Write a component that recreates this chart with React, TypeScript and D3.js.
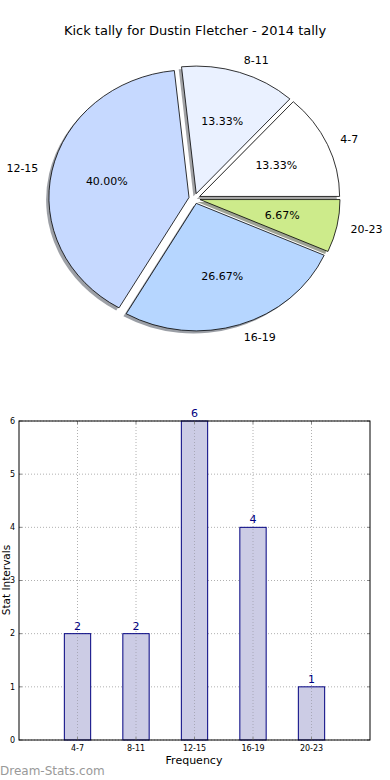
import React from 'react'
import * as d3 from 'd3'

const categories = ['4-7', '8-11', '12-15', '16-19', '20-23']
const counts = [2, 2, 6, 4, 1]
const sliceColors = ['#ffffff', '#eaf1ff', '#c6d9ff', '#b6d6ff', '#cdeb8b']
const yTicks = [0, 1, 2, 3, 4, 5, 6]

const font = '"DejaVu Sans", sans-serif'

const App: React.FunctionComponent = () => {
  const width = 390
  const height = 780

  // pie (matplotlib style, slightly stretched since the axes aren't equal)
  const cx = 194.5
  const cy = 198.5
  const sx = 140
  const sy = 127.5
  const explode = 0.04

  const pie = d3
    .pie<number>()
    .sort(null)
    .startAngle(Math.PI / 2)
    .endAngle(Math.PI / 2 - 2 * Math.PI)
  const arcs = pie(counts)
  const arc = d3.arc<d3.PieArcDatum<number>>().innerRadius(0).outerRadius(1)
  const total = d3.sum(counts)

  const slices = arcs.map((a, i) => {
    const mid = (a.startAngle + a.endAngle) / 2
    const dx = Math.sin(mid)
    const dy = -Math.cos(mid)
    const ox = cx + explode * dx * sx
    const oy = cy + explode * dy * sy
    const rgb = d3.rgb(sliceColors[i])
    const shadow = d3.rgb(rgb.r * 0.3, rgb.g * 0.3, rgb.b * 0.3).toString()
    return {
      d: arc(a) || '',
      ox,
      oy,
      dx,
      dy,
      shadow,
      color: sliceColors[i],
      label: categories[i],
      pct: ((counts[i] / total) * 100).toFixed(2) + '%',
    }
  })

  // bar chart
  const x = d3.scaleLinear().domain([-1, 5]).range([19, 370])
  const y = d3.scaleLinear().domain([0, 6]).range([740, 421])
  const barWidth = x(0.45) - x(0)

  return (
    <svg
      width={width}
      height={height}
      style={{ position: 'absolute', left: 0, top: 0, display: 'block' }}
      fontFamily={font}
    >
      <rect width={width} height={height} fill="#fff" />
      <text x={195} y={35} textAnchor="middle" fontSize={13} fill="#000">
        Kick tally for Dustin Fletcher - 2014 tally
      </text>

      {slices.map((s, i) => (
        <path
          key={'sh' + i}
          d={s.d}
          transform={`translate(${s.ox - 0.02 * sx},${s.oy + 0.02 * sy}) scale(${sx},${sy})`}
          fill={s.shadow}
          fillOpacity={0.5}
          stroke="none"
        />
      ))}
      {slices.map((s, i) => (
        <path
          key={'w' + i}
          d={s.d}
          transform={`translate(${s.ox},${s.oy}) scale(${sx},${sy})`}
          fill={s.color}
          stroke="#000"
          strokeWidth={0.8}
          vectorEffect="non-scaling-stroke"
          strokeLinejoin="round"
        />
      ))}
      {slices.map((s, i) => (
        <g key={'l' + i} fontSize={11} fill="#000">
          <text
            x={s.ox + 1.1 * s.dx * sx}
            y={s.oy + 1.1 * s.dy * sy}
            dy="0.35em"
            textAnchor={s.dx > 0 ? 'start' : 'end'}
          >
            {s.label}
          </text>
          <text
            x={s.ox + 0.6 * s.dx * sx}
            y={s.oy + 0.6 * s.dy * sy}
            dy="0.35em"
            textAnchor="middle"
          >
            {s.pct}
          </text>
        </g>
      ))}

      {/* grid */}
      <g stroke="#b0b0b0" strokeWidth={1} strokeDasharray="1,2">
        {yTicks.map(t => (
          <line key={'gy' + t} x1={x(-1)} x2={x(5)} y1={y(t)} y2={y(t)} />
        ))}
        {categories.map((c, i) => (
          <line key={'gx' + c} x1={x(i)} x2={x(i)} y1={y(0)} y2={y(6)} />
        ))}
      </g>

      {counts.map((v, i) => (
        <rect
          key={'b' + i}
          x={x(i) - barWidth / 2}
          y={y(v)}
          width={barWidth}
          height={y(0) - y(v)}
          fill="#cccce5"
          stroke="#000080"
          strokeWidth={1}
        />
      ))}
      {/* grid shows through the bars in the reference */}
      <g stroke="#a8a8b8" strokeWidth={1} strokeDasharray="1,2">
        {categories.map((c, i) => (
          <line key={'gx2' + c} x1={x(i)} x2={x(i)} y1={y(0)} y2={y(counts[i])} />
        ))}
      </g>
      {counts.map((v, i) => (
        <text
          key={'v' + i}
          x={x(i)}
          y={y(v) - 4}
          textAnchor="middle"
          fontSize={11}
          fill="#000080"
        >
          {v}
        </text>
      ))}

      {/* ticks */}
      <g stroke="#888" strokeWidth={1}>
        {yTicks.map(t => (
          <g key={'ty' + t}>
            <line x1={x(-1)} x2={x(-1) + 3} y1={y(t)} y2={y(t)} />
            <line x1={x(5) - 3} x2={x(5)} y1={y(t)} y2={y(t)} />
          </g>
        ))}
        {categories.map((c, i) => (
          <g key={'tx' + c}>
            <line x1={x(i)} x2={x(i)} y1={y(0)} y2={y(0) - 3} />
            <line x1={x(i)} x2={x(i)} y1={y(6)} y2={y(6) + 3} />
          </g>
        ))}
      </g>

      <rect
        x={x(-1)}
        y={y(6)}
        width={x(5) - x(-1)}
        height={y(0) - y(6)}
        fill="none"
        stroke="#000"
        strokeWidth={1}
      />

      <g fontSize={8} fill="#000">
        {yTicks.map(t => (
          <text key={'yl' + t} x={x(-1) - 4} y={y(t)} dy="0.35em" textAnchor="end">
            {t}
          </text>
        ))}
        {categories.map((c, i) => (
          <text key={'xl' + c} x={x(i)} y={y(0) + 11} textAnchor="middle">
            {c}
          </text>
        ))}
      </g>

      <text x={194} y={764} textAnchor="middle" fontSize={11} fill="#000">
        Frequency
      </text>
      <text
        transform="translate(9.5,580) rotate(-90)"
        textAnchor="middle"
        fontSize={10.5}
        fill="#000"
      >
        Stat Intervals
      </text>

      <text x={0} y={775} fontSize={12} fill="#999">
        Dream-Stats.com
      </text>
    </svg>
  )
}

export default App
